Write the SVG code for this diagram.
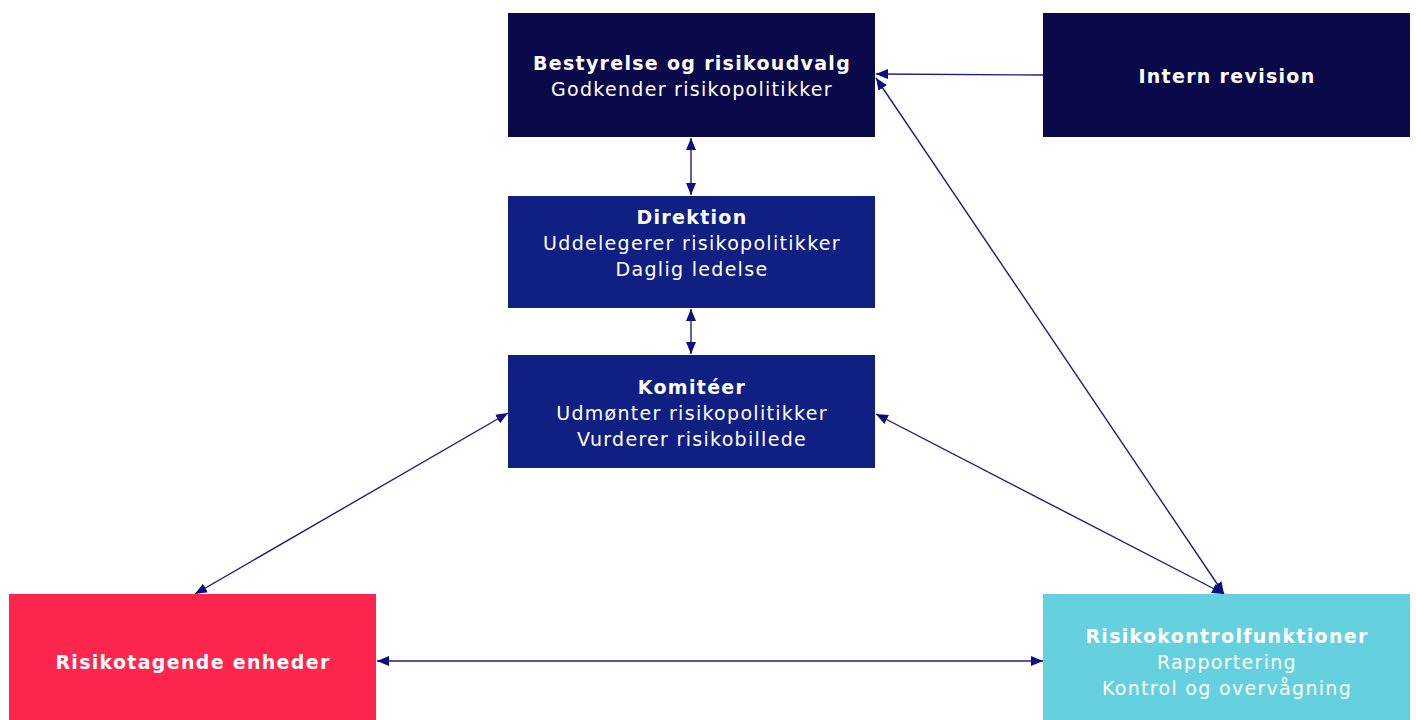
<svg xmlns="http://www.w3.org/2000/svg" width="1416" height="720" viewBox="0 0 1416 720">
<style>
.t{font-family:"DejaVu Sans",Verdana,sans-serif;font-size:19px;letter-spacing:1.3px;fill:#ffffff;text-anchor:middle}
.b{font-weight:bold}
.c{stroke:#1c1c86;stroke-width:1.4;fill:none;marker-end:url(#ah)}
.d{marker-start:url(#ah)}
</style>
<defs>
<marker id="ah" viewBox="0 0 12 10" refX="12" refY="5" markerWidth="12" markerHeight="10" markerUnits="userSpaceOnUse" orient="auto-start-reverse">
<path d="M0,0 L12,5 L0,10 Z" fill="#0e0e80"/>
</marker>
</defs>
<rect width="1416" height="720" fill="#ffffff"/>
<g id="connectors">
<line class="c" x1="1043" y1="75" x2="876" y2="74"/>
<line class="c d" x1="691" y1="138" x2="691" y2="195"/>
<line class="c d" x1="691" y1="309" x2="691" y2="354"/>
<line class="c d" x1="508" y1="413" x2="195" y2="594"/>
<line class="c d" x1="876" y1="414" x2="1224" y2="594"/>
<line class="c d" x1="876" y1="78" x2="1224" y2="594"/>
<line class="c d" x1="377" y1="661" x2="1043" y2="661"/>
</g>
<g id="bestyrelse">
<rect x="508" y="13" width="367" height="124" fill="#0a0a4b"/>
<text class="t b" x="692" y="70">Bestyrelse og risikoudvalg</text>
<text class="t" x="692" y="96">Godkender risikopolitikker</text>
</g>
<g id="intern-revision">
<rect x="1043" y="13" width="367" height="124" fill="#0a0a4b"/>
<text class="t b" x="1227" y="83">Intern revision</text>
</g>
<g id="direktion">
<rect x="508" y="196" width="367" height="112" fill="#101f82"/>
<text class="t b" x="692" y="224">Direktion</text>
<text class="t" x="692" y="250">Uddelegerer risikopolitikker</text>
<text class="t" x="692" y="276">Daglig ledelse</text>
</g>
<g id="komiteer">
<rect x="508" y="355" width="367" height="113" fill="#101f82"/>
<text class="t b" x="692" y="394">Komitéer</text>
<text class="t" x="692" y="420">Udmønter risikopolitikker</text>
<text class="t" x="692" y="446">Vurderer risikobillede</text>
</g>
<g id="risikotagende">
<rect x="9" y="594" width="367" height="126" fill="#ff264d"/>
<text class="t b" x="193" y="669">Risikotagende enheder</text>
</g>
<g id="risikokontrol">
<rect x="1043" y="594" width="367" height="126" fill="#66d1de"/>
<text class="t b" x="1227" y="643">Risikokontrolfunktioner</text>
<text class="t" x="1227" y="669">Rapportering</text>
<text class="t" x="1227" y="695">Kontrol og overvågning</text>
</g>
</svg>
